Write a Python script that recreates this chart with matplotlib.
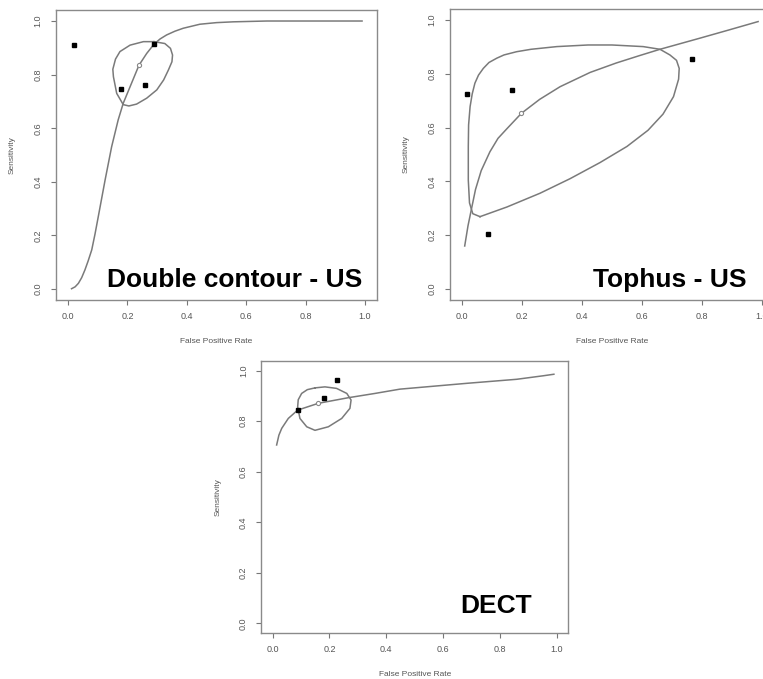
import matplotlib
matplotlib.use("Agg")
import matplotlib.pyplot as plt

# ---- data ----

# Double contour - US
dc_study_fpr = [0.02, 0.177, 0.26, 0.29]
dc_study_sens = [0.909, 0.745, 0.76, 0.914]
dc_summary = (0.239, 0.835)
dc_curve_fpr = [0.012, 0.024, 0.035, 0.046, 0.057, 0.068, 0.080, 0.091, 0.102, 0.125,
                0.147, 0.169, 0.186, 0.214, 0.239, 0.265, 0.29, 0.31, 0.332, 0.36,
                0.388, 0.444, 0.50, 0.557, 0.669, 0.80, 0.99]
dc_curve_sens = [0.001, 0.008, 0.021, 0.042, 0.071, 0.105, 0.146, 0.205, 0.270, 0.407,
                 0.531, 0.631, 0.693, 0.768, 0.835, 0.879, 0.914, 0.933, 0.948, 0.962,
                 0.973, 0.988, 0.994, 0.997, 1.0, 1.0, 1.0]
dc_region_fpr = [0.29, 0.254, 0.209, 0.175, 0.160, 0.151, 0.153, 0.164, 0.186, 0.205,
                 0.231, 0.265, 0.299, 0.322, 0.338, 0.350, 0.352, 0.345, 0.326, 0.29]
dc_region_sens = [0.923, 0.923, 0.910, 0.886, 0.858, 0.820, 0.792, 0.730, 0.688, 0.683,
                  0.690, 0.712, 0.743, 0.780, 0.817, 0.848, 0.873, 0.898, 0.916, 0.923]

# Tophus - US
to_study_fpr = [0.018, 0.166, 0.087, 0.768]
to_study_sens = [0.725, 0.739, 0.206, 0.855]
to_summary = (0.198, 0.653)
to_curve_fpr = [0.009, 0.02, 0.032, 0.045, 0.064, 0.093, 0.12, 0.149, 0.198, 0.259,
                0.327, 0.427, 0.514, 0.593, 0.66, 0.792, 0.887, 0.987]
to_curve_sens = [0.16, 0.235, 0.30, 0.37, 0.44, 0.51, 0.56, 0.595, 0.653, 0.705,
                 0.752, 0.805, 0.840, 0.868, 0.891, 0.932, 0.962, 0.994]
to_region_fpr = [0.06, 0.15, 0.26, 0.36, 0.46, 0.55, 0.62, 0.67, 0.705, 0.722, 0.724,
                 0.715, 0.693, 0.66, 0.604, 0.50, 0.42, 0.316, 0.23, 0.182, 0.140,
                 0.116, 0.090, 0.071, 0.055, 0.043, 0.034, 0.027, 0.022, 0.021,
                 0.021, 0.025, 0.036, 0.06]
to_region_sens = [0.269, 0.305, 0.356, 0.41, 0.47, 0.53, 0.59, 0.65, 0.715, 0.78, 0.82,
                  0.85, 0.870, 0.891, 0.901, 0.907, 0.907, 0.901, 0.891, 0.882, 0.870,
                  0.858, 0.842, 0.820, 0.795, 0.765, 0.725, 0.678, 0.61, 0.529,
                  0.405, 0.32, 0.28, 0.269]

# DECT
de_study_fpr = [0.225, 0.181, 0.088]
de_study_sens = [0.963, 0.890, 0.844]
de_summary = (0.161, 0.871)
de_curve_fpr = [0.014, 0.022, 0.032, 0.055, 0.088, 0.161, 0.266, 0.36, 0.448, 0.683,
                0.859, 0.953, 0.99]
de_curve_sens = [0.706, 0.745, 0.772, 0.811, 0.844, 0.871, 0.893, 0.910, 0.927, 0.950,
                 0.966, 0.980, 0.986]
de_region_fpr = [0.149, 0.122, 0.102, 0.090, 0.088, 0.096, 0.12, 0.149, 0.196, 0.243,
                 0.272, 0.276, 0.261, 0.225, 0.184, 0.149]
de_region_sens = [0.932, 0.925, 0.910, 0.885, 0.857, 0.811, 0.778, 0.764, 0.778, 0.811,
                  0.851, 0.884, 0.910, 0.930, 0.936, 0.932]

ticks = [0.0, 0.2, 0.4, 0.6, 0.8, 1.0]
tick_labels = ["0.0", "0.2", "0.4", "0.6", "0.8", "1.0"]

plt.rcParams['font.family'] = ['Liberation Sans', 'DejaVu Sans']

W, H = 763, 679
fig = plt.figure(figsize=(W / 100, H / 100), dpi=100)


def make_axes(left, right, bottom, top):
    # pixel box of the plot region -> figure fraction
    return fig.add_axes([left / W, 1 - bottom / H, (right - left) / W, (bottom - top) / H])


def panel(ax, study_fpr, study_sens, summary, curve_fpr, curve_sens,
          region_fpr, region_sens, title, title_x, title_y, ax_w, ax_h):
    line_col = "#7a7a7a"
    ax.plot(curve_fpr, curve_sens, color=line_col, lw=1.1)
    ax.plot(region_fpr, region_sens, color=line_col, lw=1.1)
    ax.plot(study_fpr, study_sens, "s", color="black", ms=3.3)
    ax.plot(*summary, "o", mfc="white", mec="#888888", ms=3, mew=0.8)
    ax.set_xlim(-0.04, 1.04)
    ax.set_ylim(-0.04, 1.04)
    ax.set_xticks(ticks)
    ax.set_xticklabels(tick_labels)
    ax.set_yticks(ticks)
    ax.set_yticklabels(tick_labels, rotation=90, va="center")
    ax.tick_params(axis="both", length=3.6, width=0.8, colors="#777777",
                   labelcolor="#555555", labelsize=6.5)
    ax.tick_params(axis="x", pad=5)
    ax.tick_params(axis="y", pad=6)
    for s in ax.spines.values():
        s.set_color("#8a8a8a")
        s.set_linewidth(1.0)
    ax.set_xlabel("False Positive Rate", fontsize=6, color="#555555")
    ax.set_ylabel("Sensitivity", fontsize=6, color="#555555")
    ax.xaxis.set_label_coords(0.5, -38 / ax_h)
    ax.yaxis.set_label_coords(-40 / ax_w, 0.5)
    ax.text(title_x, title_y, title, fontsize=19, fontweight="bold", color="black",
            ha="right", va="baseline")


ax1 = make_axes(56.1, 376.9, 299.7, 10.3)
panel(ax1, dc_study_fpr, dc_study_sens, dc_summary, dc_curve_fpr, dc_curve_sens,
      dc_region_fpr, dc_region_sens, "Double contour - US", 0.989, 0.009, 320.8, 289.4)

ax2 = make_axes(450, 774, 299.8, 9.2)
panel(ax2, to_study_fpr, to_study_sens, to_summary, to_curve_fpr, to_curve_sens,
      to_region_fpr, to_region_sens, "Tophus - US", 0.949, 0.009, 324, 290.6)

ax3 = make_axes(261.3, 568.1, 633.4, 360.6)
panel(ax3, de_study_fpr, de_study_sens, de_summary, de_curve_fpr, de_curve_sens,
      de_region_fpr, de_region_sens, "DECT", 0.912, 0.04, 306.8, 272.8)

fig.savefig("out.png", dpi=100)
